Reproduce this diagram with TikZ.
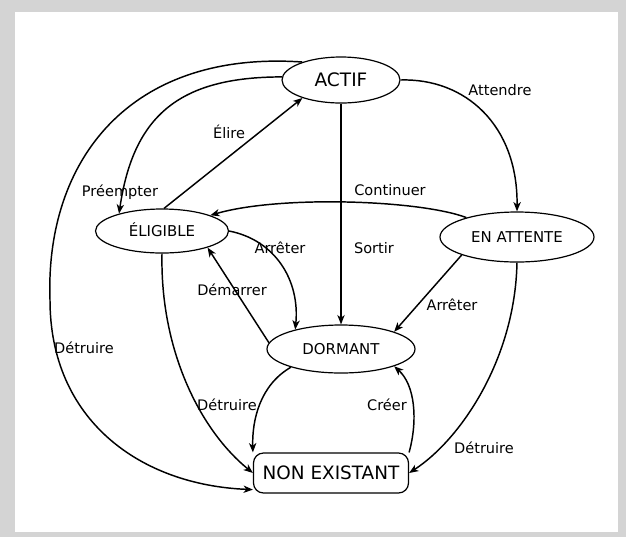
\documentclass[tikz,border=0pt]{standalone}
\usepackage{fontspec}
\setmainfont{DejaVu Sans}
\usetikzlibrary{shapes.geometric,arrows.meta}
\tikzset{every picture/.style={line width=0.75pt}}
\tikzset{
  etat/.style={draw, ellipse, line width=0.9pt, inner sep=0pt, text height=8.1pt, text depth=0pt, font=\fontsize{11.2}{13}\selectfont},
  trans/.style={-{Stealth[length=7pt,width=5.5pt,inset=2pt]}, line width=1.1pt},
  lbl/.style={inner sep=1pt, text height=7.9pt, text depth=0pt, font=\fontsize{10.9}{13}\selectfont}
}

\begin{document}
\begin{tikzpicture}[x=0.75pt,y=0.75pt,yscale=-1,xscale=1]
%Frame
\path[fill=black!17] (0,0) rectangle (626,537);
\path[fill=white] (15,12) rectangle (618,532);

%Shape: Ellipse [id:actif]
\node[etat, minimum width=88.5pt, minimum height=34.5pt, text height=10.1pt, font=\fontsize{13.9}{16}\selectfont] (actif) at (341,80) {ACTIF};
%Shape: Ellipse [id:eligible]
\node[etat, minimum width=99.75pt, minimum height=33pt] (eligible) at (162,231) {ÉLIGIBLE};
%Shape: Ellipse [id:attente]
\node[etat, minimum width=115.5pt, minimum height=37.5pt] (attente) at (517,237) {EN ATTENTE};
%Shape: Ellipse [id:dormant]
\node[etat, minimum width=111pt, minimum height=36pt] (dormant) at (341,349) {DORMANT};
%Shape: Rounded Rect [id:nonex]
\node[draw, rectangle, line width=0.9pt, rounded corners=7.5pt, inner sep=0pt, minimum width=116.25pt, minimum height=30pt, text height=10.1pt, text depth=0pt, font=\fontsize{13.8}{16}\selectfont] (nonex) at (331,473) {NON EXISTANT};

%Curve Lines [id:preempter]
\draw[trans] (actif.177) .. controls (181,77) and (133.5,114) .. (eligible.158);
%Straight Lines [id:elire]
\draw[trans] (eligible.85) -- (actif.205);
%Curve Lines [id:detruire actif]
\draw[trans] (actif.155) .. controls (130,50) and (45,160) .. (50,300) .. controls (50,420) and (140,485) .. (nonex.192);
%Curve Lines [id:attendre]
\draw[trans] (actif.east) .. controls (465,78) and (518,125) .. (attente.north);
%Straight Lines [id:sortir]
\draw[trans] (actif.south) -- (dormant.north);
%Curve Lines [id:continuer]
\draw[trans] (attente.159) .. controls (420,200) and (280,195) .. (eligible.18);
%Curve Lines [id:arreter eligible]
\draw[trans] (eligible.east) .. controls (275,240) and (300,280) .. (dormant.157);
%Straight Lines [id:demarrer]
\draw[trans] (dormant.175) -- (eligible.-20);
%Straight Lines [id:arreter attente]
\draw[trans] (attente.198) -- (dormant.18);
%Curve Lines [id:detruire eligible]
\draw[trans] (eligible.south) .. controls (160,350) and (200,430) .. (nonex.west);
%Curve Lines [id:detruire dormant]
\draw[trans] (dormant.200) .. controls (260,385) and (252,420) .. (nonex.north west);
%Curve Lines [id:creer]
\draw[trans] (nonex.north east) .. controls (418,420) and (415,385) .. (dormant.-18);
%Curve Lines [id:detruire attente]
\draw[trans] (attente.south) .. controls (515,360) and (460,440) .. (nonex.east);

%Labels
\node[lbl] (lpreempter) at (120,191) {Préempter};
\node[lbl] (lelire) at (229,133) {Élire};
\node[lbl] (ldetruire1) at (84,348) {Détruire};
\node[lbl] (lattendre) at (500,90) {Attendre};
\node[lbl] (lsortir) at (374,248) {Sortir};
\node[lbl] (lcontinuer) at (390,190) {Continuer};
\node[lbl] (larreter1) at (280,248) {Arrêter};
\node[lbl] (ldemarrer) at (232,290) {Démarrer};
\node[lbl] (larreter2) at (452,305) {Arrêter};
\node[lbl] (ldetruire2) at (227,405) {Détruire};
\node[lbl] (lcreer) at (387,405) {Créer};
\node[lbl] (ldetruire3) at (484,448) {Détruire};
\end{tikzpicture}
\end{document}
